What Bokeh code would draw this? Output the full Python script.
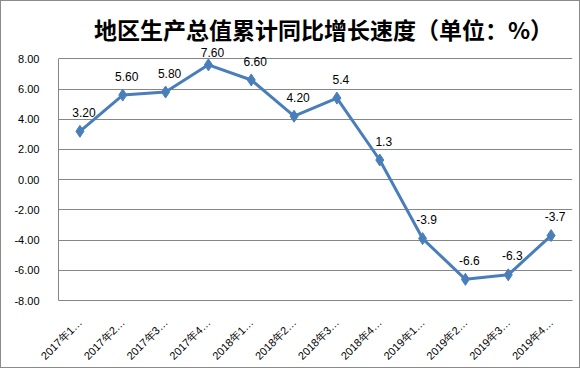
import numpy as np
from bokeh.plotting import figure
from bokeh.models import ColumnDataSource, FactorRange, FixedTicker, PrintfTickFormatter, Label, Range1d
from bokeh.embed import file_html
from bokeh.resources import INLINE
from bokeh.core.properties import value

categories = ["2017年1…", "2017年2…", "2017年3…", "2017年4…",
              "2018年1…", "2018年2…", "2018年3…", "2018年4…",
              "2019年1…", "2019年2…", "2019年3…", "2019年4…"]
values = [3.2, 5.6, 5.8, 7.6, 6.6, 4.2, 5.4, 1.3, -3.9, -6.6, -6.3, -3.7]
label_texts = ["3.20", "5.60", "5.80", "7.60", "6.60", "4.20", "5.4", "1.3", "-3.9", "-6.6", "-6.3", "-3.7"]
y_ticks = [-8, -6, -4, -2, 0, 2, 4, 6, 8]
title_text = "地区生产总值累计同比增长速度（单位：%）"

# data labels sit above each point, kept inside the plot area like Excel does
label_y = np.minimum(np.array(values) + 1.25, 8.4)

src = ColumnDataSource(dict(x=categories, y=values, t=label_texts, ly=label_y))

p = figure(width=580, height=368, output_backend="svg", toolbar_location=None,
           x_range=FactorRange(factors=categories, range_padding=0),
           y_range=Range1d(-8, 11.0),
           min_border_left=57, min_border_right=9, min_border_top=12, min_border_bottom=69)
p.styles = {"border": "1px solid #8a8a8a", "box-sizing": "border-box"}
p.outline_line_color = None
p.background_fill_color = "white"
p.border_fill_color = "white"

grid_c = "#868686"
p.xgrid.grid_line_color = None
p.ygrid.grid_line_color = grid_c
p.ygrid.ticker = FixedTicker(ticks=y_ticks)

p.yaxis.ticker = FixedTicker(ticks=y_ticks)
p.yaxis.bounds = (-8, 8)
p.yaxis.formatter = PrintfTickFormatter(format="%.2f")
p.yaxis.axis_line_color = grid_c
p.yaxis.major_tick_line_color = None
p.yaxis.minor_tick_line_color = None
p.yaxis.major_label_standoff = 13
p.yaxis.major_label_text_font = "Liberation Sans"
p.yaxis.major_label_text_font_size = "11px"
p.yaxis.major_label_text_color = "black"

p.xaxis.axis_line_color = grid_c
p.xaxis.major_tick_line_color = None
p.xaxis.minor_tick_line_color = None
p.xaxis.major_label_orientation = 0.785398
p.xaxis.major_label_standoff = 14
p.xaxis.major_label_text_font = "Liberation Sans"
p.xaxis.major_label_text_font_size = "11px"
p.xaxis.major_label_text_color = "black"

p.line("x", "y", source=src, line_color="#4A7EBB", line_width=3)
p.scatter("x", "y", source=src, marker="diamond", size=12,
          fill_color="#4A7EBB", line_color="#4A7EBB")

p.text("x", "ly", text="t", source=src, x_offset=4,
       text_align="center", text_baseline="middle",
       text_font=value("Liberation Sans"), text_font_size="12px", text_color="black")

title = Label(x=265, y=272, x_units="screen", y_units="screen", text=title_text,
              text_align="center", text_baseline="middle",
              text_font="Noto Sans CJK SC", text_font_style="bold",
              text_font_size="23px", text_color="black")
p.add_layout(title)

open("out.html", "w").write(file_html(p, INLINE))
